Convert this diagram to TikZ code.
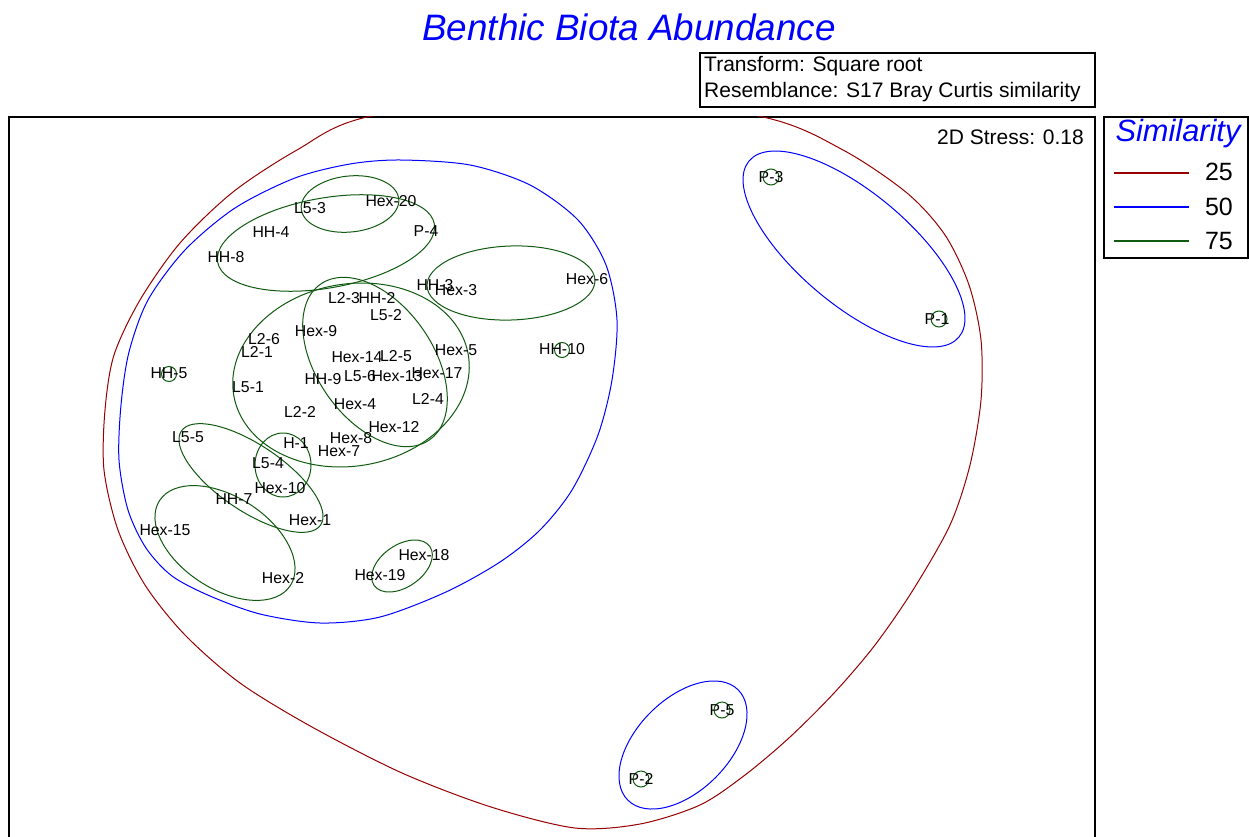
\documentclass[tikz,border=0pt]{standalone}
\usepackage{fontspec}
\setmainfont{Liberation Sans}
\definecolor{c25}{RGB}{150,0,0}
\definecolor{c50}{RGB}{0,0,255}
\definecolor{c75}{RGB}{15,90,15}
\begin{document}
\begin{tikzpicture}[x=1pt,y=-1pt,
  lbl/.style={inner sep=0pt, font=\fontsize{15.8}{18}\selectfont},
  info/.style={inner sep=0pt, font=\fontsize{21}{24}\selectfont},
  g25/.style={draw=c25, line width=1pt},
  g50/.style={draw=c50, line width=1pt},
  g75/.style={draw=c75, line width=1pt},
  frame/.style={draw=black, line width=1.3pt}]
\useasboundingbox (0,0) rectangle (1249,837);
% title
\node[inner sep=0pt, text=c50, font=\fontsize{36.8}{40}\selectfont\itshape] (title) at (629,27) {Benthic Biota Abundance};
% info box
\draw[frame, line width=1.1pt] (700,53) rectangle (1095,107);
\node[info, anchor=west] (tr) at (704,66) {Transform: Square root};
\node[info, anchor=west] (rs) at (704,92) {Resemblance: S17 Bray Curtis similarity};
% plot frame
\draw[frame] (9,900) -- (9,117) -- (1095,117) -- (1095,900);
\node[info, anchor=east] (stress) at (1084,137) {2D Stress: 0.18};
% legend
\draw[frame, line width=1.1pt] (1104,117) rectangle (1248,258);
\node[inner sep=0pt, text=c50, font=\fontsize{30.8}{34}\selectfont\itshape] (simt) at (1178,134) {Similarity};
\draw[g25, line width=1.3pt] (1114,173) -- (1189,173);
\draw[g50, line width=1.3pt] (1114,207) -- (1189,207);
\draw[g75, line width=1.3pt] (1114,241) -- (1189,241);
\node[inner sep=0pt, anchor=east, font=\fontsize{25}{28}\selectfont] (l25) at (1233,172) {25};
\node[inner sep=0pt, anchor=east, font=\fontsize{25}{28}\selectfont] (l50) at (1233,207) {50};
\node[inner sep=0pt, anchor=east, font=\fontsize{25}{28}\selectfont] (l75) at (1233,241) {75};
\begin{scope}
\clip (9,117) rectangle (1095,837);
% 25% contour
\draw[g25] plot[smooth cycle] coordinates {
 (565,88) (763,117) (843,150) (907,193) (945,235) (969,285) (981,340) (981,400)
 (970,465) (950,525) (913,590) (875,645) (835,692) (790,737) (745,775) (700,805) (640,824) (575,828)
 (491,807) (402,773) (312,727) (240,683) (185,635) (145,585) (118,530) (104,470) (105,410)
 (114,355) (140,300) (180,243) (233,192) (297,150) (367,117)};
% 50% contours
\draw[g50] plot[smooth cycle] coordinates {
 (400,160) (470,165) (530,185) (578,220) (606,265) (617,320) (612,380) (598,435) (572,490)
 (540,530) (500,562) (446,592) (380,617) (320,623) (260,614) (210,596) (172,576) (146,548)
 (128,510) (119,460) (121,405) (129,352) (148,300) (185,250) (235,208) (295,178) (350,164)};
\draw[g50, rotate around={-40:(854,249)}] (854,249) ellipse [x radius=137, y radius=56];
\draw[g50, rotate around={45:(683,745)}] (683,745) ellipse [x radius=78, y radius=46];
% 75% contours
\draw[g75, rotate around={6:(350,204)}] (350,204) ellipse [x radius=49, y radius=28];
\draw[g75, rotate around={10:(326,243)}] (326,243) ellipse [x radius=110, y radius=45];
\draw[g75, rotate around={2:(511,283)}] (511,283) ellipse [x radius=84, y radius=37];
\draw[g75, rotate around={10:(351,375)}] (351,375) ellipse [x radius=119, y radius=91];
\draw[g75, rotate around={-55:(375,362)}] (375,362) ellipse [x radius=95, y radius=58];
\draw[g75, rotate around={-34:(251,478)}] (251,478) ellipse [x radius=84, y radius=33];
\draw[g75, rotate around={-33:(225,543)}] (225,543) ellipse [x radius=78, y radius=46];
\draw[g75] (283,465) ellipse [x radius=28, y radius=32];
\draw[g75, rotate around={35:(402,566)}] (402,566) ellipse [x radius=34, y radius=21];
\draw[g75] (169,374) circle [radius=7.5];
\draw[g75] (562,350) circle [radius=7.5];
\draw[g75] (771,177) circle [radius=8];
\draw[g75] (939,319) circle [radius=8];
\draw[g75] (722,710) circle [radius=8];
\draw[g75] (641,779) circle [radius=8];
\end{scope}
% sample labels
\node[lbl] (hh8) at (226,257) {HH-8};
\node[lbl] (hh4) at (271,232) {HH-4};
\node[lbl] (l53) at (310,208) {L5-3};
\node[lbl] (hex20) at (391,201) {Hex-20};
\node[lbl] (p4) at (426,231) {P-4};
\node[lbl] (hh3) at (435,285) {HH-3};
\node[lbl] (hex3) at (456,290) {Hex-3};
\node[lbl] (hex6) at (587,279) {Hex-6};
\node[lbl] (l23) at (344,298) {L2-3};
\node[lbl] (hh2) at (377,298) {HH-2};
\node[lbl] (l52) at (386,315) {L5-2};
\node[lbl] (hex9) at (316,331) {Hex-9};
\node[lbl] (l26) at (264,339) {L2-6};
\node[lbl] (l21) at (257,352) {L2-1};
\node[lbl] (hex14) at (357,357) {Hex-14};
\node[lbl] (l25s) at (396,356) {L2-5};
\node[lbl] (hex5) at (456,350) {Hex-5};
\node[lbl] (hh10) at (562,349) {HH-10};
\node[lbl] (hh5) at (169,373) {HH-5};
\node[lbl] (l51) at (248,387) {L5-1};
\node[lbl] (hh9) at (323,379) {HH-9};
\node[lbl] (l56) at (360,376) {L5-6};
\node[lbl] (hex13) at (397,376) {Hex-13};
\node[lbl] (hex17) at (437,373) {Hex-17};
\node[lbl] (l24) at (428,399) {L2-4};
\node[lbl] (hex4) at (355,404) {Hex-4};
\node[lbl] (l22) at (300,412) {L2-2};
\node[lbl] (hex12) at (394,427) {Hex-12};
\node[lbl] (hex8) at (351,438) {Hex-8};
\node[lbl] (hex7) at (339,451) {Hex-7};
\node[lbl] (l55) at (188,437) {L5-5};
\node[lbl] (h1) at (296,443) {H-1};
\node[lbl] (l54) at (268,463) {L5-4};
\node[lbl] (hex10) at (280,488) {Hex-10};
\node[lbl] (hh7) at (234,499) {HH-7};
\node[lbl] (hex1) at (310,520) {Hex-1};
\node[lbl] (hex15) at (165,530) {Hex-15};
\node[lbl] (hex2) at (283,578) {Hex-2};
\node[lbl] (hex18) at (424,555) {Hex-18};
\node[lbl] (hex19) at (380,575) {Hex-19};
\node[lbl] (p3) at (771,177) {P-3};
\node[lbl] (p1) at (937,319) {P-1};
\node[lbl] (p5) at (722,710) {P-5};
\node[lbl] (p2) at (641,779) {P-2};
\end{tikzpicture}
\end{document}
